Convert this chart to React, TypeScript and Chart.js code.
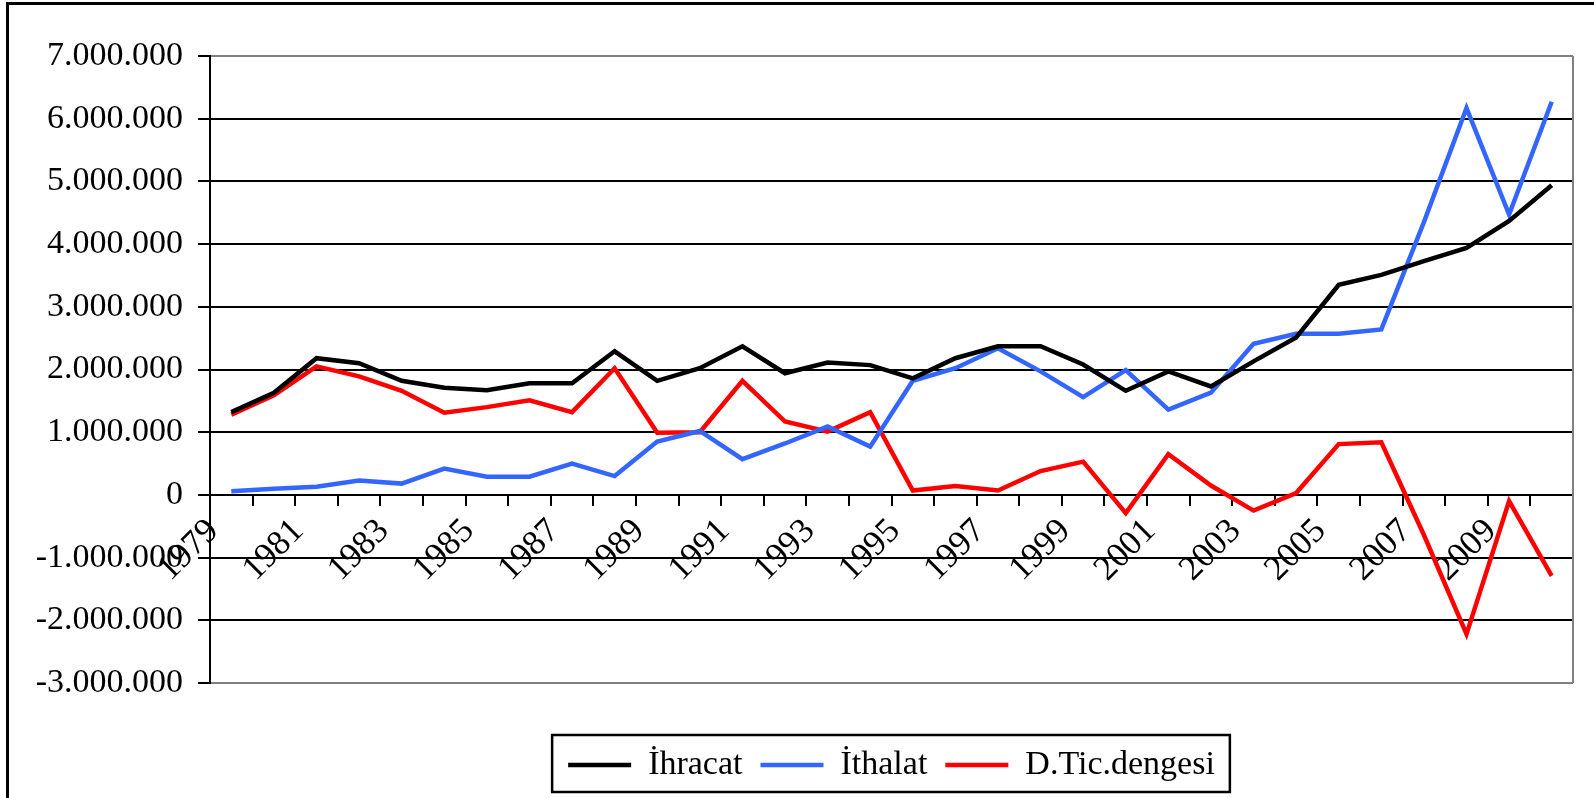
import React, { useEffect, useRef } from 'react';
import { Chart, registerables } from 'chart.js';

Chart.register(...registerables);

const years = [
  '1979', '1980', '1981', '1982', '1983', '1984', '1985', '1986', '1987', '1988',
  '1989', '1990', '1991', '1992', '1993', '1994', '1995', '1996', '1997', '1998',
  '1999', '2000', '2001', '2002', '2003', '2004', '2005', '2006', '2007', '2008',
  '2009', '2010',
];

const ihracat = [
  1320000, 1630000, 2180000, 2100000, 1820000, 1710000, 1670000, 1780000, 1780000, 2290000,
  1820000, 2020000, 2370000, 1940000, 2110000, 2070000, 1860000, 2180000, 2370000, 2370000,
  2080000, 1660000, 1970000, 1730000, 2130000, 2510000, 3350000, 3510000, 3730000, 3940000,
  4370000, 4940000,
];

const ithalat = [
  60000, 100000, 130000, 230000, 180000, 420000, 290000, 290000, 500000, 300000,
  850000, 1020000, 570000, 820000, 1090000, 770000, 1820000, 2020000, 2340000, 1970000,
  1560000, 1990000, 1360000, 1630000, 2410000, 2570000, 2570000, 2640000, 4350000, 6170000,
  4470000, 6270000,
];

const dengesi = [
  1280000, 1590000, 2050000, 1890000, 1660000, 1310000, 1400000, 1510000, 1320000, 2020000,
  990000, 1000000, 1820000, 1170000, 1010000, 1320000, 70000, 140000, 70000, 380000,
  530000, -290000, 650000, 150000, -250000, 30000, 810000, 840000, -640000, -2220000,
  -100000, -1290000,
];

const seriesNames = ['İhracat', 'İthalat', 'D.Tic.dengesi'];
const seriesColors = ['#000000', '#3366FF', '#FF0000'];

const yMin = -3000000;
const yMax = 7000000;
const yStep = 1000000;

const FONT = '"Liberation Serif", "Times New Roman", serif';

const fmt = (v: number) => {
  const s = Math.round(Math.abs(v)).toString().replace(/\B(?=(\d{3})+(?!\d))/g, '.');
  return (v < 0 ? '-' : '') + s;
};

export default function App() {
  const ref = useRef<HTMLCanvasElement>(null);

  useEffect(() => {
    if (!ref.current) return;

    const frame = {
      id: 'frame',
      beforeDraw(chart: any) {
        const c = chart.ctx;
        c.save();
        c.fillStyle = '#ffffff';
        c.fillRect(0, 0, chart.width, chart.height);
        c.fillStyle = '#000000';
        c.fillRect(6, 2, 3, chart.height);
        c.fillRect(6, 2, chart.width, 3);
        c.restore();
      },
    };

    const plotEdge = {
      id: 'plotEdge',
      beforeDatasetsDraw(chart: any) {
        const { ctx, chartArea: a } = chart;
        ctx.save();
        ctx.strokeStyle = '#808080';
        ctx.lineWidth = 2;
        ctx.beginPath();
        ctx.moveTo(a.right, a.top);
        ctx.lineTo(a.right, a.bottom);
        ctx.stroke();
        ctx.restore();
      },
    };

    const legendBox = {
      id: 'legendBox',
      afterDraw(chart: any) {
        const lg = chart.legend;
        if (!lg || !lg.legendHitBoxes || !lg.legendHitBoxes.length) return;
        const hb = lg.legendHitBoxes;
        let l = Infinity, r = -Infinity, t = Infinity, b = -Infinity;
        hb.forEach((h: any) => {
          l = Math.min(l, h.left);
          r = Math.max(r, h.left + h.width);
          t = Math.min(t, h.top);
          b = Math.max(b, h.top + h.height);
        });
        const cy = (t + b) / 2;
        const ctx = chart.ctx;
        ctx.save();
        ctx.strokeStyle = '#000000';
        ctx.lineWidth = 2.5;
        ctx.strokeRect(l - 16, cy - 30, r - l + 31, 57);
        ctx.restore();
      },
    };

    const chart = new Chart(ref.current, {
      type: 'line',
      data: {
        labels: years,
        datasets: [ihracat, ithalat, dengesi].map((d, i) => ({
          label: seriesNames[i],
          data: d,
          borderColor: seriesColors[i],
          backgroundColor: seriesColors[i],
          borderWidth: 4.5,
          pointRadius: 0,
          tension: 0,
          fill: false,
        })),
      },
      options: {
        animation: false,
        responsive: false,
        maintainAspectRatio: false,
        layout: { padding: { top: 56, left: 0, right: 21, bottom: 6 } },
        plugins: {
          title: { display: false },
          tooltip: { enabled: false },
          legend: {
            display: true,
            position: 'bottom',
            fullSize: false,
            title: {
              display: true,
              text: ' ',
              font: { family: FONT, size: 10 },
              padding: { top: 35, bottom: 0 },
            },
            labels: {
              usePointStyle: true,
              pointStyle: 'line',
              pointStyleWidth: 63,
              boxHeight: 34,
              padding: 18,
              color: '#000000',
              font: { family: FONT, size: 34 },
            },
          },
        },
        scales: {
          x: {
            type: 'category',
            position: { y: 0 } as any,
            offset: true,
            grid: {
              offset: true,
              drawOnChartArea: false,
              drawTicks: true,
              tickLength: 10,
              color: '#000000',
              lineWidth: 2,
            },
            border: { display: true, color: '#000000', width: 2 },
            ticks: {
              autoSkip: false,
              maxRotation: 45,
              minRotation: 45,
              padding: 6,
              labelOffset: -18,
              color: '#000000',
              font: { family: FONT, size: 35 },
              callback: (_v: any, i: number) => (i % 2 === 0 ? years[i] : ''),
            },
          },
          y: {
            min: yMin,
            max: yMax,
            ticks: {
              stepSize: yStep,
              padding: 15,
              color: '#000000',
              font: { family: FONT, size: 34 },
              callback: (v: any) => fmt(Number(v)),
            },
            grid: {
              color: (c: any) =>
                c.tick && (c.tick.value === yMax || c.tick.value === yMin) ? '#808080' : '#000000',
              lineWidth: 2,
              tickLength: 12,
              tickColor: '#000000',
              drawTicks: true,
            },
            border: { display: true, color: '#000000', width: 2 },
            afterFit: (s: any) => {
              s.width = 210;
            },
          },
        },
      },
      plugins: [frame, plotEdge, legendBox],
    } as any);

    return () => chart.destroy();
  }, []);

  return (
    <div style={{ position: 'absolute', left: 0, top: 0, width: 1594, height: 798, background: '#fff' }}>
      <canvas ref={ref} width={1594} height={798} style={{ display: 'block', width: 1594, height: 798 }} />
    </div>
  );
}
